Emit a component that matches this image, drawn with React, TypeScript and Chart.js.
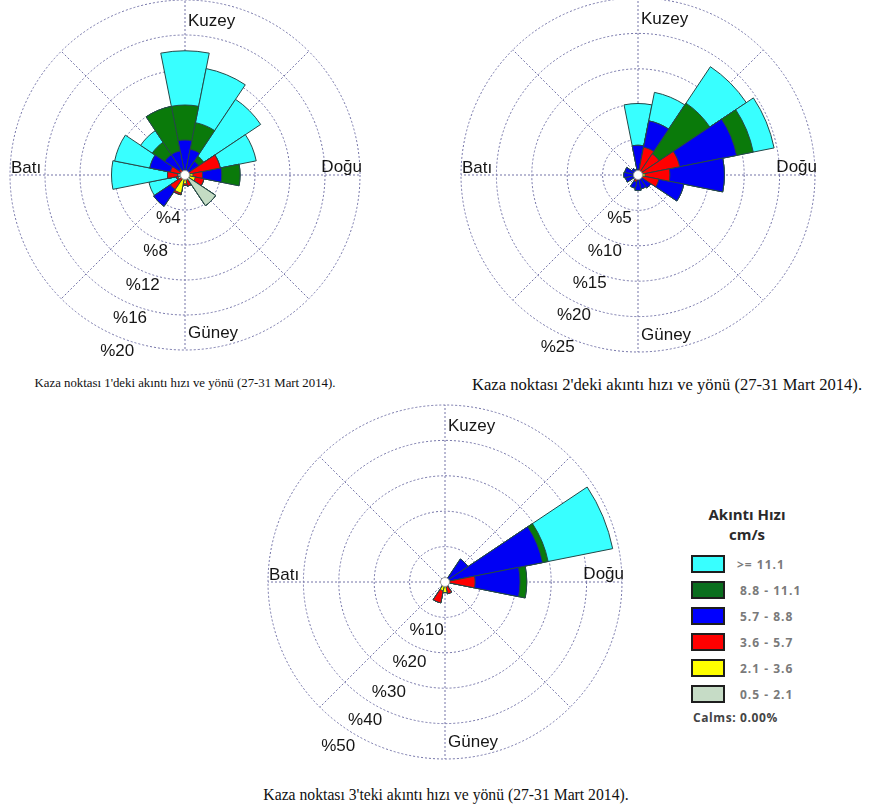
import React, { useEffect, useRef } from "react";
import { Chart, registerables } from "chart.js";

Chart.register(...registerables);

// ---- categories ----
const DIRECTIONS = ["K", "KKD", "KD", "DKD", "D", "DGD", "GD", "GGD", "G", "GGB", "GB", "BGB", "B", "BKB", "KB", "KKB"];
const SPEED_BINS = ["0.5 - 2.1", "2.1 - 3.6", "3.6 - 5.7", "5.7 - 8.8", "8.8 - 11.1", ">= 11.1"];
const LEGEND_LABELS = [">= 11.1", "8.8 - 11.1", "5.7 - 8.8", "3.6 - 5.7", "2.1 - 3.6", "0.5 - 2.1"];
const CALMS_TEXT = "Calms: 0.00%";

// ---- Kaza noktası 1 (% frequency per direction, per speed bin) ----
const P1_05_21 = [0.1, 0, 0, 0, 0, 0, 4.2, 0, 0.3, 0, 0, 0.8, 0.8, 0, 0, 0];
const P1_21_36 = [0.1, 0.1, 0.1, 0.3, 0.9, 1.2, 0, 0.3, 0.7, 2.1, 0.3, 0, 0, 0, 0, 0];
const P1_36_57 = [0.3, 0.3, 0.3, 3.8, 1.1, 1.0, 0, 1.0, 0.2, 0.2, 1.7, 0.2, 1.2, 1.7, 0.8, 0.5];
const P1_57_88 = [3.5, 2.6, 1.5, 0, 2.2, 0, 0, 0, 0, 0, 2.3, 0, 0, 2.4, 2.0, 2.3];
const P1_88_111 = [4.0, 3.1, 0.7, 0, 2.1, 0, 0, 0, 0, 0, 0, 0, 0, 0, 1.7, 5.2];
const P1_111 = [6.2, 6.3, 7.8, 4.2, 0, 0, 0, 0, 0, 0, 0, 3.2, 6.4, 4.1, 1.6, 0];

// ---- Kaza noktası 2 ----
const P2_05_21 = [0, 0, 0, 0, 0, 0, 0, 0, 0, 0, 0, 0, 0, 0, 0, 0];
const P2_21_36 = [0, 0.3, 0.3, 0.5, 1.0, 0.3, 0, 0, 0, 0, 0, 0, 0, 0, 0, 0];
const P2_36_57 = [0.3, 3.7, 3.3, 5.5, 3.5, 2.7, 0.5, 0.3, 0.5, 1.0, 0.5, 0, 0, 0, 0, 0];
const P2_57_88 = [3.9, 3.8, 0, 8.2, 7.7, 3.6, 1.7, 1.7, 1.7, 0.9, 0, 1.8, 2.0, 1.9, 1.1, 0.8];
const P2_88_111 = [0, 0, 8.6, 2.4, 0, 0, 0, 0, 0, 0, 0, 0, 0, 0, 0, 0];
const P2_111 = [5.9, 4.1, 6.2, 3.0, 0, 0, 0, 0, 0, 0, 0, 0, 0, 0, 0, 0];

// ---- Kaza noktası 3 ----
const P3_05_21 = [0, 0, 0, 0, 0, 0, 0, 0, 0, 0, 0, 0, 0, 0, 0, 0];
const P3_21_36 = [0, 0, 0, 0, 0.3, 0, 0, 0.5, 3.0, 2.5, 0, 0, 0, 0, 0, 0];
const P3_36_57 = [0, 0, 0, 0.5, 8.2, 0, 0.5, 2.9, 0, 3.5, 0.5, 0, 0, 0, 0, 0];
const P3_57_88 = [0, 0, 7.8, 27.6, 12.7, 0, 0, 0, 0, 0, 0, 0, 0, 0, 0, 0];
const P3_88_111 = [0, 0, 0, 1.6, 1.9, 0, 0, 0, 0, 0, 0, 0, 0, 0, 0, 0];
const P3_111 = [0, 0, 0, 18.6, 0, 0, 0, 0, 0, 0, 0, 0, 0, 0, 0, 0];

// ---- axis settings ----
const P1_MAX = 20, P1_STEP = 4;
const P2_MAX = 25, P2_STEP = 5;
const P3_MAX = 50, P3_STEP = 10;

const CAPTION_1 = "Kaza noktası 1'deki akıntı hızı ve yönü (27-31 Mart 2014).";
const CAPTION_2 = "Kaza noktası 2'deki akıntı hızı ve yönü (27-31 Mart 2014).";
const CAPTION_3 = "Kaza noktası 3'teki akıntı hızı ve yönü (27-31 Mart 2014).";
const COMPASS = { n: "Kuzey", e: "Doğu", s: "Güney", w: "Batı" };

// ---- styles ----
const BIN_COLORS = ["#c4dcc4", "#ffff00", "#ff0000", "#0000f4", "#0a7a0a", "#38ffff"];
const LEGEND_COLORS = ["#38ffff", "#0a6e1e", "#0000ff", "#ff0000", "#ffff00", "#c6dcc6"];
const BORDER_COLOR = "#254848";
const GRID_COLOR = "#7474a8";
const LABEL_FONT = '17px "Liberation Sans", Arial, sans-serif';

type Layout = {
  left: number; top: number; width: number; height: number;
  cx: number; cy: number; R: number;
  angleInner: number; angleOuter: number; offInner: number; offOuter: number;
};

const LAYOUT_1: Layout = { left: 0, top: 0, width: 440, height: 372, cx: 185, cy: 175, R: 175, angleInner: 201, angleOuter: 201, offInner: 11.5, offOuter: 14 };
const LAYOUT_2: Layout = { left: 440, top: -4, width: 429, height: 376, cx: 638, cy: 175, R: 177, angleInner: 203, angleOuter: 205, offInner: 12, offOuter: 13 };
const LAYOUT_3: Layout = { left: 260, top: 400, width: 400, height: 380, cx: 445, cy: 582, R: 177, angleInner: 201, angleOuter: 213, offInner: 16, offOuter: 19 };

function cumulative(bins: number[][]): number[][] {
  const out: number[][] = [];
  let acc = new Array(DIRECTIONS.length).fill(0);
  for (const b of bins) {
    acc = acc.map((v: number, i: number) => Math.round((v + b[i]) * 1000) / 1000);
    out.push(acc);
  }
  return out;
}

function decorPlugin(lay: Layout) {
  return {
    id: "roseDecor",
    beforeDatasetsDraw(chart: any) {
      const s = chart.scales.r;
      const ctx = chart.ctx;
      ctx.save();
      ctx.strokeStyle = GRID_COLOR;
      ctx.lineWidth = 1;
      ctx.setLineDash([2, 2]);
      for (let k = 0; k < 8; k++) {
        const a = (k * Math.PI) / 4;
        ctx.beginPath();
        ctx.moveTo(s.xCenter, s.yCenter);
        ctx.lineTo(s.xCenter + s.drawingArea * Math.sin(a), s.yCenter - s.drawingArea * Math.cos(a));
        ctx.stroke();
      }
      ctx.restore();
    },
    afterDatasetsDraw(chart: any) {
      const s = chart.scales.r;
      const ctx = chart.ctx;
      ctx.save();
      ctx.beginPath();
      ctx.arc(s.xCenter, s.yCenter, 4.5, 0, Math.PI * 2);
      ctx.fillStyle = "#ffffff";
      ctx.fill();
      ctx.strokeStyle = "#9a9a9a";
      ctx.lineWidth = 1;
      ctx.stroke();
      ctx.restore();
    },
    afterDraw(chart: any) {
      const s = chart.scales.r;
      const ctx = chart.ctx;
      const cx = s.xCenter, cy = s.yCenter, R = s.drawingArea;
      ctx.save();
      ctx.font = LABEL_FONT;
      ctx.fillStyle = "#151515";
      ctx.textBaseline = "middle";
      // ring labels
      ctx.textAlign = "center";
      const ticks = s.ticks.filter((t: any) => t.value > 0);
      const n = ticks.length;
      ticks.forEach((t: any, i: number) => {
        const f = n > 1 ? i / (n - 1) : 0;
        const ang = ((lay.angleInner + (lay.angleOuter - lay.angleInner) * f) * Math.PI) / 180;
        const r = s.getDistanceFromCenterForValue(t.value) + lay.offInner + (lay.offOuter - lay.offInner) * f;
        ctx.fillText("%" + t.value, cx + r * Math.sin(ang), cy - r * Math.cos(ang));
      });
      // compass labels
      ctx.textAlign = "left";
      ctx.fillText(COMPASS.n, cx + 3, cy - 0.877 * R);
      ctx.fillText(COMPASS.s, cx + 3, cy + 0.905 * R);
      ctx.fillText(COMPASS.w, cx - R + 1, cy - 7);
      ctx.textAlign = "right";
      ctx.fillText(COMPASS.e, cx + R + 2, cy - 7.5);
      ctx.restore();
    },
  };
}

function makeRose(canvas: HTMLCanvasElement, bins: number[][], max: number, step: number, lay: Layout) {
  const cum = cumulative(bins);
  const padLeft = lay.cx - lay.R - lay.left;
  const padTop = lay.cy - lay.R - lay.top;
  const padding = {
    left: padLeft,
    top: padTop,
    right: lay.width - padLeft - 2 * lay.R,
    bottom: lay.height - padTop - 2 * lay.R,
  };
  return new Chart(canvas, {
    type: "polarArea",
    data: {
      labels: DIRECTIONS,
      datasets: cum.map((d, i) => ({
        label: SPEED_BINS[i],
        data: d,
        backgroundColor: BIN_COLORS[i],
        borderColor: BORDER_COLOR,
        borderWidth: 1,
      })),
    },
    options: {
      responsive: false,
      animation: false,
      events: [],
      layout: { padding },
      plugins: { legend: { display: false }, tooltip: { enabled: false } },
      scales: {
        r: {
          type: "radialLinear",
          min: 0,
          max,
          startAngle: -11.25,
          ticks: { display: false, stepSize: step },
          grid: { circular: true, color: GRID_COLOR, lineWidth: 1 },
          border: { dash: [2, 2] },
          angleLines: { display: false },
          pointLabels: { display: false },
        },
      },
    } as any,
    plugins: [decorPlugin(lay)],
  });
}

function Rose({ bins, max, step, lay }: { bins: number[][]; max: number; step: number; lay: Layout }) {
  const ref = useRef<HTMLCanvasElement | null>(null);
  useEffect(() => {
    if (!ref.current) return;
    const ch = makeRose(ref.current, bins, max, step, lay);
    return () => ch.destroy();
  }, []);
  return (
    <canvas
      ref={ref}
      width={lay.width}
      height={lay.height}
      style={{ position: "absolute", left: lay.left, top: lay.top, width: lay.width, height: lay.height }}
    />
  );
}

const captionStyle = (cx: number, top: number, size: number): React.CSSProperties => ({
  position: "absolute",
  left: cx,
  top,
  transform: "translateX(-50%)",
  whiteSpace: "nowrap",
  fontFamily: '"Liberation Serif", "Times New Roman", serif',
  fontSize: size,
  color: "#111",
  lineHeight: "18px",
});

export default function App() {
  return (
    <div style={{ position: "absolute", left: 0, top: 0, width: 869, height: 811, background: "#fff", overflow: "hidden" }}>
      <Rose bins={[P1_05_21, P1_21_36, P1_36_57, P1_57_88, P1_88_111, P1_111]} max={P1_MAX} step={P1_STEP} lay={LAYOUT_1} />
      <Rose bins={[P2_05_21, P2_21_36, P2_36_57, P2_57_88, P2_88_111, P2_111]} max={P2_MAX} step={P2_STEP} lay={LAYOUT_2} />
      <Rose bins={[P3_05_21, P3_21_36, P3_36_57, P3_57_88, P3_88_111, P3_111]} max={P3_MAX} step={P3_STEP} lay={LAYOUT_3} />

      <div style={captionStyle(185, 374, 12.8)}>{CAPTION_1}</div>
      <div style={captionStyle(667, 376, 16.6)}>{CAPTION_2}</div>
      <div style={captionStyle(446, 786, 15.7)}>{CAPTION_3}</div>

      <div style={{ position: "absolute", left: 697, top: 504, width: 100, textAlign: "center", fontFamily: '"Open Sans", sans-serif', fontWeight: 700, fontSize: 15, lineHeight: "20px", color: "#2a2a2a" }}>
        <div>Akıntı Hızı</div>
        <div>cm/s</div>
      </div>
      {LEGEND_LABELS.map((lab, i) => (
        <div key={lab} style={{ position: "absolute", left: 691, top: 555 + i * 26, height: 18, display: "flex", alignItems: "center" }}>
          <div style={{ width: 34, height: 18, boxSizing: "border-box", border: "2px solid #1e1e1e", background: LEGEND_COLORS[i] }} />
          <div style={{ marginLeft: i === 0 ? 12 : 15, fontFamily: '"Open Sans", sans-serif', fontWeight: 700, fontSize: 12, letterSpacing: 1, color: "#7a7a7a", whiteSpace: "pre" }}>{lab}</div>
        </div>
      ))}
      <div style={{ position: "absolute", left: 693, top: 709, fontFamily: '"Open Sans", sans-serif', fontWeight: 700, fontSize: 12, letterSpacing: 0.6, color: "#444", whiteSpace: "nowrap" }}>{CALMS_TEXT}</div>
    </div>
  );
}
